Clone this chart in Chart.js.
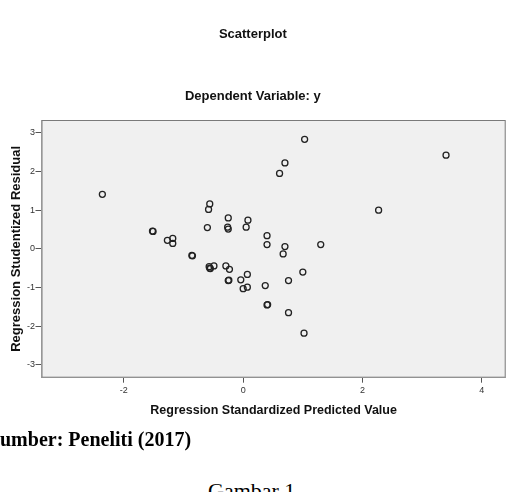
<!DOCTYPE html>
<html>
<head>
<meta charset="utf-8">
<script src="https://cdn.jsdelivr.net/npm/chart.js@4"></script>
<style>
  html, body { margin: 0; padding: 0; background: #fff; }
  body { width: 512px; height: 492px; position: relative; overflow: hidden; }
  #wrap { position: absolute; left: 0; top: 0; width: 512px; height: 430px; }
  .cap { position: absolute; white-space: nowrap; color: #000; font-family: "Liberation Serif", "Times New Roman", serif; line-height: 1; }
  #source { left: 0; top: 429px; font-size: 20px; font-weight: bold; }
  #fig { left: 208px; top: 479.5px; font-size: 22px; }
</style>
</head>
<body>
<div id="wrap"><canvas id="chart"></canvas></div>
<div class="cap" id="source">umber: Peneliti (2017)</div>
<div class="cap" id="fig">Gambar 1</div>
<script>
// Regression Standardized Predicted Value (x) and Studentized Residual (y)
const predicted = [
  -2.36, -1.52, -1.51, -1.27, -1.18, -1.18, -0.86, -0.85,
  -0.56, -0.58, -0.60, -0.57, -0.55, -0.56, -0.49,
  -0.25, -0.26, -0.25, -0.29, -0.23, -0.25, -0.24,
  0.08, 0.05, 0.07, -0.04, 0.00, 0.07,
  1.03, 0.70, 0.61, 3.40, 2.27, 0.40, 0.40, 0.70, 0.67, 1.30,
  1.00, 0.76, 0.37, 0.41, 0.40, 0.76, 1.02
];
const residual = [
  1.41, 0.46, 0.45, 0.22, 0.27, 0.14, -0.17, -0.18,
  1.16, 1.02, 0.55, -0.46, -0.51, -0.50, -0.44,
  0.80, 0.56, 0.51, -0.44, -0.53, -0.82, -0.81,
  0.74, 0.56, -0.66, -0.80, -1.03, -0.99,
  2.83, 2.22, 1.95, 2.42, 1.00, 0.34, 0.11, 0.06, -0.13, 0.11,
  -0.60, -0.82, -0.95, -1.44, -1.45, -1.65, -2.18
];
const xTicks = [-2, 0, 2, 4];
const yTicks = [-3, -2, -1, 0, 1, 2, 3];

const points = predicted.map((x, i) => ({ x, y: residual[i] }));

const plotFrame = {
  id: "plotFrame",
  beforeDatasetsDraw(chart) {
    const { ctx, chartArea: a } = chart;
    ctx.save();
    ctx.fillStyle = "#f0f0f0";
    ctx.fillRect(a.left, a.top, a.right - a.left, a.bottom - a.top);
    ctx.strokeStyle = "#7a7a7a";
    ctx.lineWidth = 1;
    ctx.strokeRect(a.left + 0.5, a.top + 0.5, a.right - a.left - 1, a.bottom - a.top - 1);
    ctx.restore();
  }
};

const sans = "'Liberation Sans', Arial, sans-serif";

new Chart(document.getElementById("chart"), {
  type: "scatter",
  data: {
    datasets: [{
      data: points,
      pointRadius: 3,
      pointHoverRadius: 3,
      pointBorderWidth: 1.3,
      pointBorderColor: "#222",
      pointBackgroundColor: "rgba(0,0,0,0)"
    }]
  },
  options: {
    responsive: true,
    maintainAspectRatio: false,
    animation: false,
    layout: { padding: { left: 0, right: 6.3, top: 0, bottom: 4.3 } },
    plugins: {
      legend: { display: false },
      tooltip: { enabled: false },
      title: {
        display: true,
        text: "Scatterplot",
        color: "#111",
        font: { family: sans, size: 13, weight: "bold" },
        padding: { top: 26.5, bottom: 0 }
      },
      subtitle: {
        display: true,
        text: "Dependent Variable: y",
        color: "#111",
        font: { family: sans, size: 13, weight: "bold" },
        padding: { top: 46.1, bottom: 16.2 }
      }
    },
    scales: {
      x: {
        type: "linear",
        min: -3.38,
        max: 4.40,
        afterBuildTicks: (s) => { s.ticks = xTicks.map((v) => ({ value: v })); },
        afterFit: (s) => { s.height = 48; },
        ticks: { color: "#333", font: { family: sans, size: 9 }, padding: 2.2, maxRotation: 0 },
        grid: { drawOnChartArea: false, drawTicks: true, tickLength: 5, color: "#555" },
        border: { display: true, color: "#7a7a7a" },
        title: {
          display: true,
          text: "Regression Standardized Predicted Value",
          color: "#111",
          font: { family: sans, size: 12.5, weight: "bold" },
          padding: { top: 0, bottom: 7.2 }
        }
      },
      y: {
        type: "linear",
        min: -3.33,
        max: 3.33,
        afterBuildTicks: (s) => { s.ticks = yTicks.map((v) => ({ value: v })); },
        afterFit: (s) => { s.width = 41.5; },
        ticks: { color: "#333", font: { family: sans, size: 9 }, padding: 0.5 },
        grid: { drawOnChartArea: false, drawTicks: true, tickLength: 6, color: "#555" },
        border: { display: true, color: "#7a7a7a" },
        title: {
          display: true,
          text: "Regression Studentized Residual",
          color: "#111",
          font: { family: sans, size: 13, weight: "bold" },
          padding: { top: 8.9, bottom: 0 }
        }
      }
    }
  },
  plugins: [plotFrame]
});
</script>
</body>
</html>
